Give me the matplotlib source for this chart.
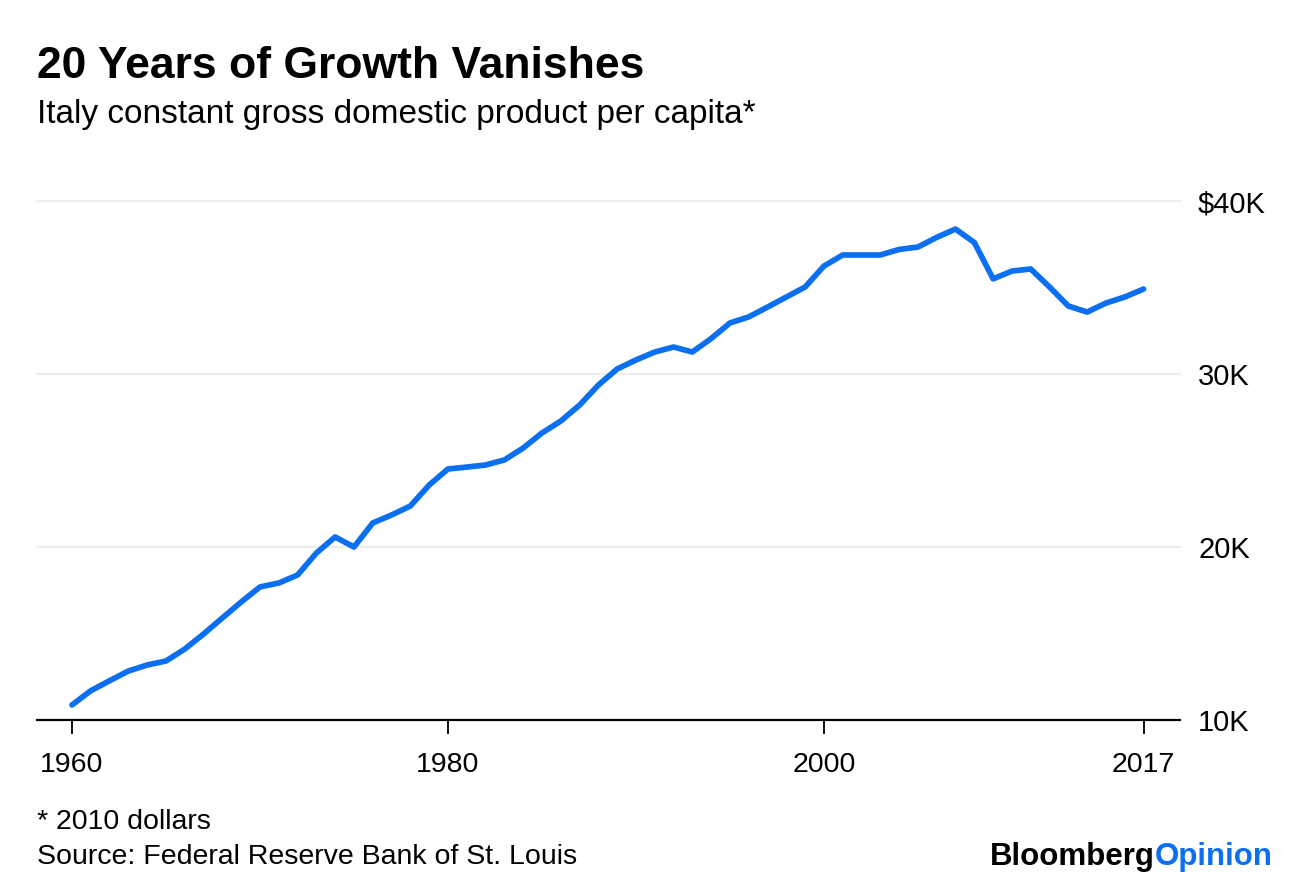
import matplotlib.pyplot as plt
import numpy as np

plt.rcParams['font.family'] = ['Liberation Sans', 'DejaVu Sans']

# Data (2010 dollars, thousands)
years = list(range(1960, 2018))
gdp_k = [10.87, 11.69, 12.27, 12.83, 13.18, 13.41, 14.10, 14.97, 15.90, 16.82,
         17.69, 17.92, 18.38, 19.65, 20.58, 20.00, 21.39, 21.85, 22.37, 23.58,
         24.51, 24.62, 24.74, 25.03, 25.72, 26.59, 27.28, 28.20, 29.36, 30.29,
         30.81, 31.27, 31.56, 31.27, 32.05, 32.95, 33.30, 33.87, 34.45, 35.03,
         36.24, 36.88, 36.88, 36.88, 37.20, 37.34, 37.90, 38.38, 37.60, 35.50,
         35.95, 36.07, 35.03, 33.93, 33.58, 34.10, 34.45, 34.91]
gdp = [v * 1000 for v in gdp_k]

xticks = [1960, 1980, 2000, 2017]
yticks = [10000, 20000, 30000, 40000]
ylabels = ['10K', '20K', '30K', '$40K']

blue = '#0b6ff2'

fig = plt.figure(figsize=(12.96, 8.88), dpi=100)
ax = fig.add_axes([37/1296, 1 - 720/888, (1180 - 37)/1296, (720 - 201)/888])

ax.plot(years, gdp, color=blue, lw=4.1, solid_capstyle='round', solid_joinstyle='round', zorder=3)

ax.set_xlim(1958.14, 2018.94)
ax.set_ylim(10000, 40000)

for y in yticks[1:]:
    ax.axhline(y, color='#ededed', lw=1.6, zorder=1, clip_on=False)

for s in ['top', 'left', 'right']:
    ax.spines[s].set_visible(False)
ax.spines['bottom'].set_color('black')
ax.spines['bottom'].set_linewidth(1.6)

ax.set_xticks(xticks)
ax.set_xticklabels([str(t) for t in xticks], fontsize=20.5)
ax.tick_params(axis='x', length=10, width=1.3, color='black', pad=13)

ax.yaxis.tick_right()
ax.set_yticks(yticks)
ax.set_yticklabels(ylabels, fontsize=21)
ax.tick_params(axis='y', length=0, pad=13)

fig.text(37/1296, 1 - 66/888, '20 Years of Growth Vanishes', fontsize=32,
         fontweight='bold', va='center', ha='left')
fig.text(37/1296, 1 - 115/888, 'Italy constant gross domestic product per capita*',
         fontsize=24, va='center', ha='left')
fig.text(37/1296, 1 - 822/888, '* 2010 dollars', fontsize=20.5, va='center', ha='left')
fig.text(37/1296, 1 - 857/888, 'Source: Federal Reserve Bank of St. Louis', fontsize=20.5,
         va='center', ha='left')

b = fig.text(990/1296, 1 - 857/888, 'Bloomberg', fontsize=22.5, fontweight='bold',
             va='center', ha='left')
ann = plt.annotate('Opinion', xy=(1, 0.5), xycoords=b, fontsize=22.5, fontweight='bold',
                   color=blue, va='center', ha='left', annotation_clip=False)

fig.savefig('out.png', dpi=100)
